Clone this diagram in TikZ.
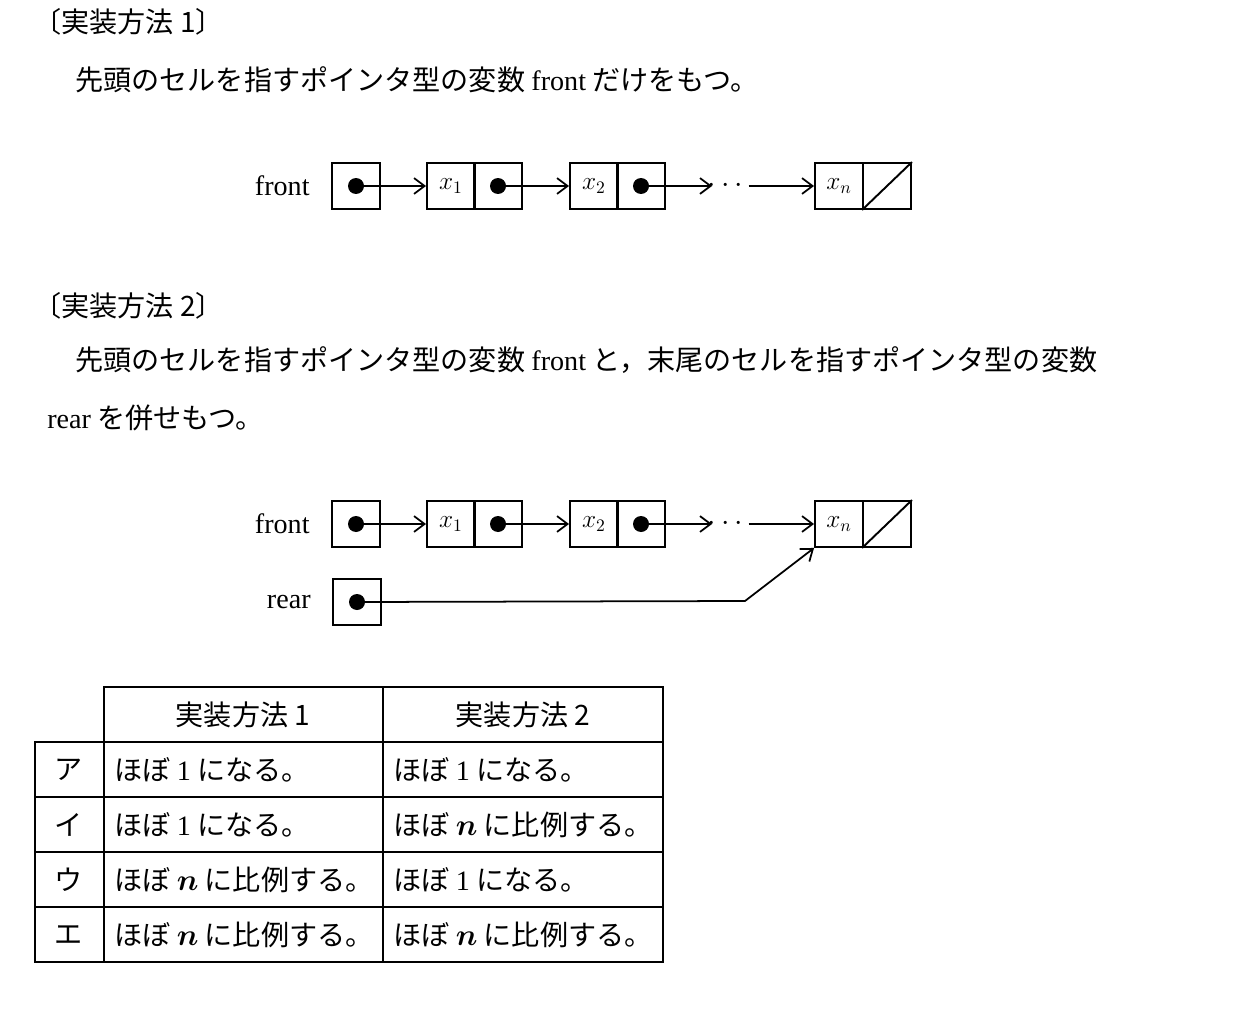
\documentclass[tikz,border=0pt]{standalone}
\usepackage{amsmath}
\usepackage{bm}
\usepackage{fontspec}
\setmainfont{Liberation Serif}
\newfontfamily\jp{Noto Sans CJK JP}
\usetikzlibrary{positioning, arrows.meta}
\tikzset{
  cell/.style={draw, line width=1.1pt, minimum width=0.96cm, minimum height=0.92cm, inner sep=0pt, font=\fontsize{14}{16}\selectfont},
  ptr/.style={-{Straight Barb[length=6pt, width=9pt]}, line width=1pt},
  txt/.style={anchor=west, inner sep=0pt, font=\fontsize{16}{18}\selectfont},
  tab/.style={inner sep=0pt, font=\fontsize{16}{18}\selectfont}
}
\newcommand{\dotc}[1]{\fill (#1) circle (0.16cm);}
\newcommand{\one}{\jp ほぼ {\rmfamily 1} になる。}
\newcommand{\prop}{\jp ほぼ $\bm{n}$ に比例する。}
\begin{document}
\begin{tikzpicture}[x=0.02cm, y=-0.02cm]
  \useasboundingbox (0,0) rectangle (1240,1010);
  % headings and text
  \node[txt] (h1) at (33,22) {\jp 〔実装方法 1〕};
  \node[txt] (t1) at (75,80) {\jp 先頭のセルを指すポインタ型の変数 {\rmfamily front} だけをもつ。};
  \node[txt] (h2) at (33,306) {\jp 〔実装方法 2〕};
  \node[txt] (t2) at (75,360) {\jp 先頭のセルを指すポインタ型の変数 {\rmfamily front} と，末尾のセルを指すポインタ型の変数};
  \node[txt] (t3) at (47,418) {\jp {\rmfamily rear} を併せもつ。};
  % lists
  \foreach \i/\y in {1/186, 2/524} {
    \node[cell] (f\i) at (356,\y) {};
    \node[tab, left=12pt of f\i] {front};
    \node[cell] (a\i) at (451,\y) {$x_1$};
    \node[cell] (b\i) at (498,\y) {};
    \node[cell] (c\i) at (594,\y) {$x_2$};
    \node[cell] (d\i) at (641,\y) {};
    \node[cell] (n\i) at (839,\y) {$x_n$};
    \node[cell] (s\i) at (887,\y) {};
    \draw[line width=1.1pt] (s\i.south west) -- (s\i.north east);
    \dotc{f\i} \dotc{b\i} \dotc{d\i}
    \draw[ptr] (f\i.center) -- (a\i.west);
    \draw[ptr] (b\i.center) -- (c\i.west);
    \coordinate (e\i) at (712,\y);
    \draw[ptr] (d\i.center) -- (e\i);
    \node[tab] (m\i) at (728,\y) {$\cdots$};
    \draw[ptr] (m\i.east) -- (n\i.west);
  }
  \node[cell] (r) at (357,602) {};
  \node[tab, left=12pt of r] {rear};
  \dotc{r}
  \coordinate (k) at (745,601);
  \draw[ptr] (r.center) -- (k) -- (n2.south west);
  % table
  \draw[line width=1.3pt] (104,687) rectangle (663,962);
  \draw[line width=1.3pt] (35,742) rectangle (104,962);
  \draw[line width=1.3pt] (383,687) -- (383,962);
  \foreach \y in {742,797,852,907} \draw[line width=1.3pt] (35,\y) -- (663,\y);
  \node[tab] (c1) at (243,715) {\jp 実装方法 1};
  \node[tab] (c2) at (523,715) {\jp 実装方法 2};
  \foreach \y/\k/\p/\q in {770/ア/\one/\one, 825/イ/\one/\prop, 880/ウ/\prop/\one, 935/エ/\prop/\prop} {
    \node[tab] at (69,\y) {\jp \k};
    \node[tab, anchor=west] at (114,\y) {\p};
    \node[tab, anchor=west] at (393,\y) {\q};
  }
\end{tikzpicture}
\end{document}
